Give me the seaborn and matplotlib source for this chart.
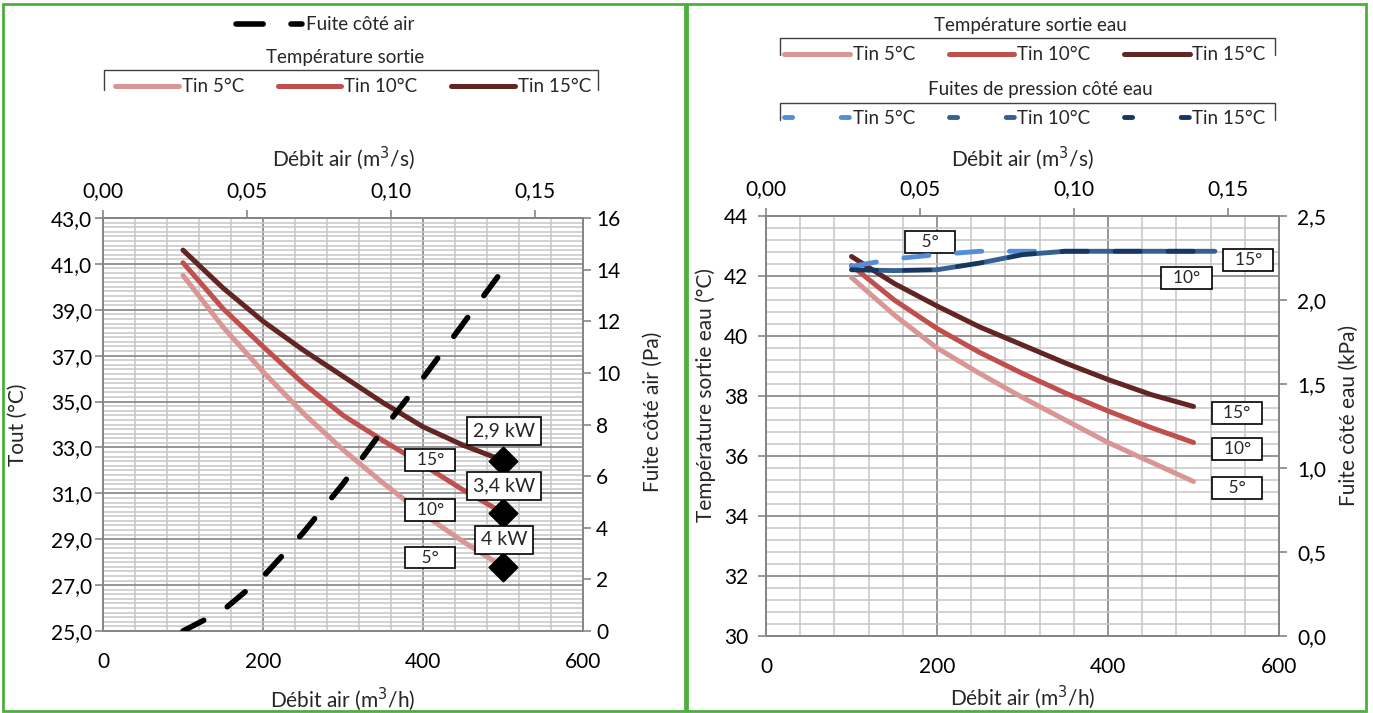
import numpy as np
import pandas as pd
import matplotlib
matplotlib.use("Agg")
import matplotlib.pyplot as plt
import seaborn as sns
from matplotlib.lines import Line2D
from matplotlib.patches import Rectangle
from matplotlib.ticker import FuncFormatter, MultipleLocator

# ---------------- data ----------------
debit = [100, 150, 200, 250, 300, 350, 400, 450, 500]          # m3/h
# left chart : Tout (°C)
tout_5 = [40.5, 38.25, 36.3, 34.5, 32.9, 31.45, 30.1, 28.9, 27.8]
tout_10 = [41.05, 39.05, 37.4, 35.8, 34.4, 33.3, 32.25, 31.15, 30.15]
tout_15 = [41.6, 39.95, 38.5, 37.25, 36.1, 34.95, 33.9, 33.1, 32.43]
fuite_air = [0.0, 0.8, 2.1, 3.8, 5.7, 7.8, 9.8, 11.9, 14.0]     # Pa
puissance_x = [500, 500, 500]
puissance_y = [27.8, 30.15, 32.43]
puissance_labels = ["4 kW", "3,4 kW", "2,9 kW"]
serie_labels = ["5°", "10°", "15°"]

# right chart : température sortie eau (°C)
teau_5 = [41.95, 40.7, 39.6, 38.75, 37.95, 37.2, 36.45, 35.8, 35.15]
teau_10 = [42.35, 41.2, 40.25, 39.45, 38.75, 38.1, 37.5, 36.95, 36.45]
teau_15 = [42.65, 41.75, 41.0, 40.3, 39.7, 39.1, 38.55, 38.05, 37.65]
# right chart : fuite côté eau (kPa)
debit_p = [100, 150, 200, 250, 300, 350, 400, 450, 525]
peau_5 = [2.20, 2.245, 2.27, 2.29, 2.29, 2.29, 2.29, 2.29, 2.29]
peau_10 = [2.18, 2.175, 2.18, 2.22, 2.27, 2.29, 2.29, 2.29, 2.29]
peau_15 = [2.18, 2.175, 2.18, 2.22, 2.27, 2.29, 2.29, 2.29, 2.29]

tin_labels = ["Tin 5°C", "Tin 10°C", "Tin 15°C"]

# ---------------- style ----------------
sns.set_theme(style="white")
plt.rcParams["font.family"] = ["Lato", "DejaVu Sans"]

W, H = 1373, 713
fig = plt.figure(figsize=(W / 100, H / 100), dpi=100)

reds = ["#D99694", "#C0504D", "#632523"]
blues = ["#558ED5", "#376092", "#17375E"]
GRID_MAJ = "#8C8C8C"
GRID_MIN = "#C6C6C6"
SPINE = "#868686"
TICK_FS = 15
LAB_FS = 15
LEG_FS = 13.5
LW_T = 3.6      # temperature curves (pt)
LW_AIR = 4.0    # air leak dashed line (pt)
LW_P = 3.5      # water leak dashed lines (pt)

def comma(fmt):
    return FuncFormatter(lambda v, p: format(v, fmt).replace(".", ","))

def fx(px):
    return px / W

def fy(py):
    return 1 - py / H

def style_axes(ax, y0, y1, ymaj, ymin, ypad):
    ax.set_xlim(0, 600)
    ax.set_ylim(y0, y1)
    ax.xaxis.set_major_locator(MultipleLocator(200))
    ax.xaxis.set_minor_locator(MultipleLocator(40))
    ax.set_yticks(np.arange(y0, y1 + 1e-6, ymaj))
    ax.set_yticks(np.arange(y0, y1 + 1e-6, ymin), minor=True)
    ax.grid(which="major", color=GRID_MAJ, lw=1.3)
    ax.grid(which="minor", color=GRID_MIN, lw=1.1)
    ax.set_axisbelow(True)
    for s in ax.spines.values():
        s.set_color(SPINE)
        s.set_linewidth(1.3)
    ax.tick_params(which="major", direction="out", length=6, width=1.2,
                   color=SPINE, labelsize=TICK_FS, labelcolor="black")
    ax.tick_params(axis="x", which="major", pad=9)
    ax.tick_params(axis="y", which="major", pad=ypad)
    ax.tick_params(which="minor", length=0)
    ax.xaxis.set_major_formatter(FuncFormatter(lambda v, p: f"{v:.0f}"))

def add_top(ax, ypos):
    sec = ax.secondary_xaxis("top", functions=(lambda x: x / 3600.0, lambda x: x * 3600.0))
    sec.set_xticks([0, 0.05, 0.10, 0.15])
    sec.xaxis.set_major_formatter(comma(".2f"))
    sec.tick_params(direction="out", length=6, width=1.2, color=SPINE,
                    labelsize=TICK_FS, labelcolor="black", pad=6.5)
    sec.spines["top"].set_color(SPINE)
    sec.set_xlabel("Débit air (m$^3$/s)", fontsize=LAB_FS)
    sec.xaxis.set_label_coords(0.5, ypos, transform=ax.transAxes)
    return sec

def twin(ax, y0, y1, step, fmt, pad):
    a2 = ax.twinx()
    a2.set_ylim(y0, y1)
    a2.set_yticks(np.arange(y0, y1 + 1e-6, step))
    a2.yaxis.set_major_formatter(fmt)
    a2.tick_params(direction="out", length=6, width=1.2, color=SPINE,
                   labelsize=TICK_FS, labelcolor="black", pad=pad)
    for s in a2.spines.values():
        s.set_color(SPINE)
        s.set_linewidth(1.3)
    a2.grid(False)
    return a2

def box(ax, x, y, s, fs=12, padw=0.35):
    ax.text(x, y, s, ha="center", va="center", fontsize=fs, zorder=10,
            bbox=dict(boxstyle=f"square,pad={padw}", fc="white", ec="black", lw=1.2))

def deg_label(lab):
    sp = "   " if len(lab) == 2 else "  "
    return sp + lab + sp

def bracket(x0, x1, ytop, ybot):
    fig.add_artist(Line2D([fx(x0), fx(x0), fx(x1), fx(x1)], [fy(ybot), fy(ytop), fy(ytop), fy(ybot)],
                          transform=fig.transFigure, color="#404040", lw=1))

# ================= LEFT CHART =================
axL = fig.add_axes([fx(103), fy(631), fx(583) - fx(103), fy(218) - fy(631)])
style_axes(axL, 25, 43, 2, 0.2, ypad=2)
axL.yaxis.set_major_formatter(comma(".1f"))

for ys, c in zip([tout_5, tout_10, tout_15], reds):
    df = pd.DataFrame({"debit": debit, "t": ys})
    sns.lineplot(data=df, x="debit", y="t", ax=axL, color=c, lw=LW_T,
                 estimator=None, sort=False, solid_capstyle="round", zorder=3)

sns.scatterplot(x=puissance_x, y=puissance_y, ax=axL, marker="D", s=210,
                color="black", edgecolor="black", zorder=6)

axL.set_xlabel("Débit air (m$^3$/h)", fontsize=LAB_FS)
axL.xaxis.set_label_coords(0.5, -0.133)
axL.set_ylabel("Tout (°C)", fontsize=LAB_FS)
axL.yaxis.set_label_coords(-0.157, 0.5)

axL2 = twin(axL, 0, 16, 2, FuncFormatter(lambda v, p: f"{v:.0f}"), pad=3.5)
sns.lineplot(x=debit, y=fuite_air, ax=axL2, color="black", lw=LW_AIR,
             linestyle=(0, (4.2, 4.9)), dash_capstyle="round", zorder=4)
axL2.set_ylabel("Fuite côté air (Pa)", fontsize=LAB_FS)
axL2.yaxis.set_label_coords(1.125, 0.53)

add_top(axL, 1.126)

for lab, ty in zip(puissance_labels, [28.97, 31.32, 33.72]):
    box(axL, 501, ty, lab, fs=14, padw=0.3)
for lab, ty in zip(serie_labels, [28.2, 30.27, 32.45]):
    box(axL, 409, ty, deg_label(lab), fs=12.5, padw=0.15)

# legends left
h_air = [Line2D([], [], color="black", lw=LW_AIR, linestyle=(0, (4.9, 5.0)),
                dash_capstyle="round")]
fig.legend(h_air, ["Fuite côté air"], loc="center", bbox_to_anchor=(fx(325), fy(25)),
           frameon=False, fontsize=LEG_FS, handlelength=3.5, handletextpad=0.2)
fig.text(fx(345), fy(57), "Température sortie", ha="center", va="center", fontsize=LEG_FS)
h_temp = [Line2D([], [], color=c, lw=LW_T, solid_capstyle="round") for c in reds]
fig.legend(h_temp, tin_labels, loc="center", bbox_to_anchor=(fx(353), fy(87)),
           frameon=False, fontsize=LEG_FS, ncol=3, handlelength=3.4,
           handletextpad=0.15, columnspacing=1.8)
bracket(104, 598, 70, 90)

# ================= RIGHT CHART =================
axR = fig.add_axes([fx(766), fy(636), fx(1279) - fx(766), fy(216) - fy(636)])
style_axes(axR, 30, 44, 2, 0.4, ypad=7)
axR.yaxis.set_major_formatter(FuncFormatter(lambda v, p: f"{v:.0f}"))

for ys, c in zip([teau_5, teau_10, teau_15], reds):
    df = pd.DataFrame({"debit": debit, "t": ys})
    sns.lineplot(data=df, x="debit", y="t", ax=axR, color=c, lw=LW_T,
                 estimator=None, sort=False, solid_capstyle="round", zorder=3)

axR.set_xlabel("Débit air (m$^3$/h)", fontsize=LAB_FS)
axR.xaxis.set_label_coords(0.5, -0.112)
axR.set_ylabel("Température sortie eau (°C)", fontsize=LAB_FS)
axR.yaxis.set_label_coords(-0.0975, 0.574)

axR2 = twin(axR, 0, 2.5, 0.5, comma(".1f"), pad=7)
styles_p = [(0, (5.2, 5.7)), (5.45, (5.2, 5.7)), (0, (5.2, 5.7))]
for ys, c, ls in zip([peau_5, peau_10, peau_15], blues, styles_p):
    sns.lineplot(x=debit_p, y=ys, ax=axR2, color=c, lw=LW_P, linestyle=ls,
                 dash_capstyle="round", zorder=4)
axR2.set_ylabel("Fuite côté eau (kPa)", fontsize=LAB_FS)
axR2.yaxis.set_label_coords(1.117, 0.526)

add_top(axR, 1.119)

box(axR, 192, 43.13, deg_label("5°"), fs=12.5, padw=0.15)
box(axR, 564, 42.53, deg_label("15°"), fs=12.5, padw=0.15)
box(axR, 492, 41.93, deg_label("10°"), fs=12.5, padw=0.15)
for lab, ty in zip(["15°", "10°", "5°"], [37.43, 36.23, 34.93]):
    box(axR, 551, ty, deg_label(lab), fs=12.5, padw=0.15)

# legends right
fig.text(fx(1030), fy(25), "Température sortie eau", ha="center", va="center", fontsize=LEG_FS)
fig.legend(h_temp, tin_labels, loc="center", bbox_to_anchor=(fx(1025), fy(55)),
           frameon=False, fontsize=LEG_FS, ncol=3, handlelength=3.5,
           handletextpad=0.15, columnspacing=1.8)
bracket(780, 1275, 38, 55)
fig.text(fx(1040), fy(90), "Fuites de pression côté eau", ha="center", va="center", fontsize=LEG_FS)
h_p = [Line2D([], [], color=c, lw=LW_P, linestyle=(0, (1.67, 10.0)), dash_capstyle="round")
       for c in blues]
fig.legend(h_p, tin_labels, loc="center", bbox_to_anchor=(fx(1025), fy(118)),
           frameon=False, fontsize=LEG_FS, ncol=3, handlelength=3.5,
           handletextpad=0.15, columnspacing=1.8)
bracket(780, 1275, 103, 120)

# green frames
GREEN = "#4CAF3C"
fig.add_artist(Rectangle((fx(3), fy(711)), fx(685) - fx(3), fy(4) - fy(711),
                         transform=fig.transFigure, fill=False, ec=GREEN, lw=2))
fig.add_artist(Rectangle((fx(687), fy(711)), fx(1366) - fx(687), fy(4) - fy(711),
                         transform=fig.transFigure, fill=False, ec=GREEN, lw=2))

fig.savefig("out.png", dpi=100)
